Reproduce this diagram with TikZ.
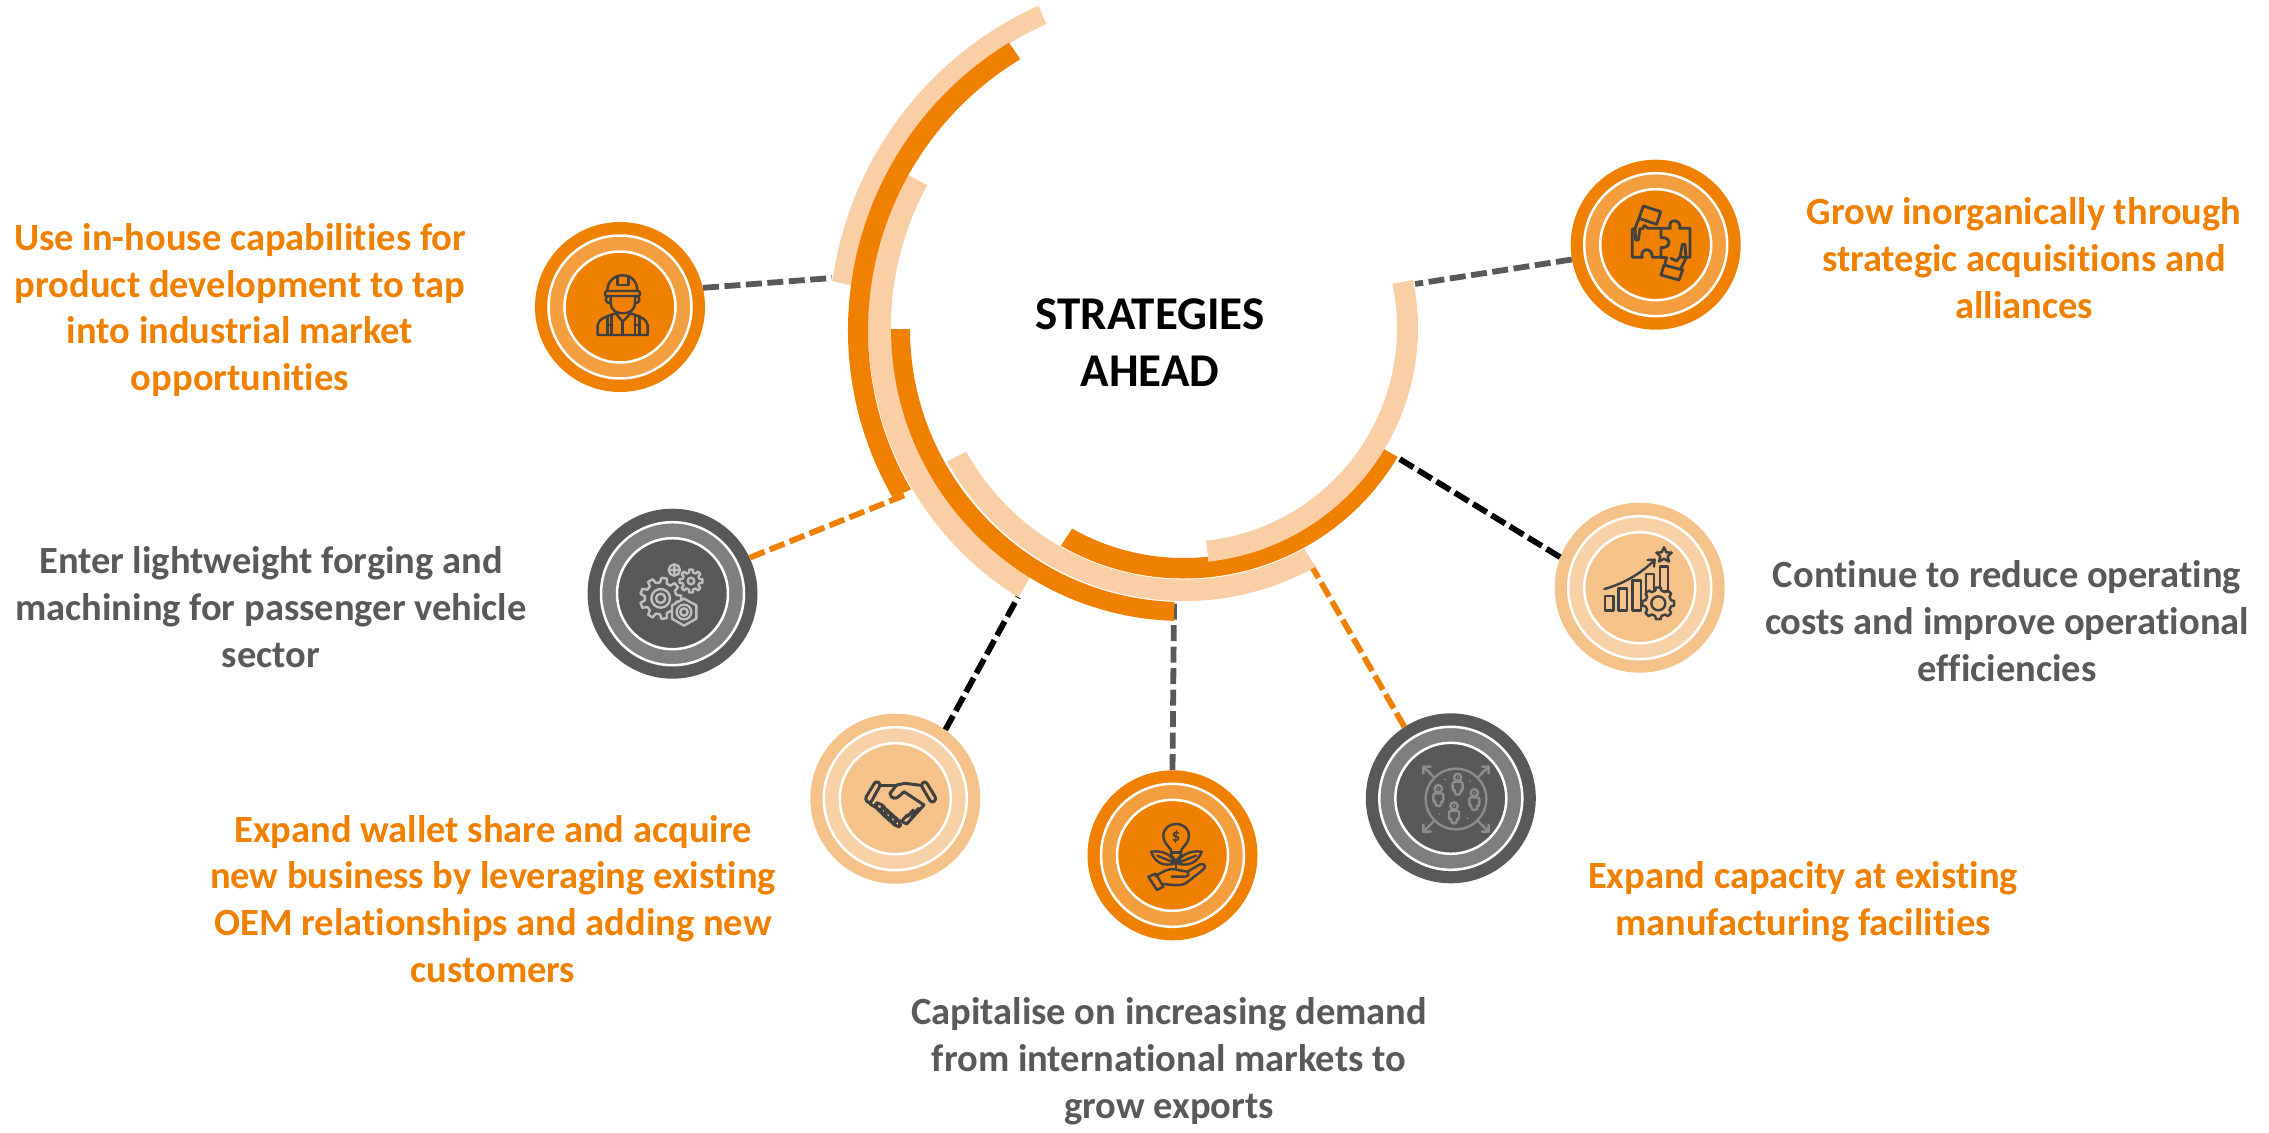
\documentclass[tikz,border=0pt]{standalone}
\usepackage{fontspec}
\setmainfont{Carlito}[Ligatures=CommonOff]
\definecolor{org}{HTML}{F08000}
\definecolor{orgmid}{HTML}{F49F3F}
\definecolor{pale}{HTML}{FBCFA5}
\definecolor{tan}{HTML}{F5C28A}
\definecolor{tanmid}{HTML}{F8D2A6}
\definecolor{dk}{HTML}{595959}
\definecolor{dkmid}{HTML}{7F7F7F}
\definecolor{icn}{HTML}{404040}
\newcommand{\bandarc}[9]{% color cx cy ri ro a1o a2o a1i a2i
  \fill[#1,shift={(#2,-#3)}] (#6:#5) arc[start angle=#6,end angle=#7,radius=#5*1pt] -- (#9:#4) arc[start angle=#9,end angle=#8,radius=#4*1pt] -- cycle;}
\newcommand{\cog}[5]{% cx cy ro ri n
  \begin{scope}[shift={(#1,#2)}]
  \foreach \i in {1,...,#5}{
    \pgfmathsetmacro{\aa}{\i*360/#5}
    \pgfmathsetmacro{\wd}{90/#5}
    \draw (\aa-\wd*1.25:#4) -- (\aa-\wd*.75:#3) -- (\aa+\wd*.75:#3) -- (\aa+\wd*1.25:#4) -- (\aa+360/#5-\wd*1.25:#4);
  }
  \end{scope}}
\newcommand{\person}[2]{%
  \draw (#1,#2-14) circle[radius=11];
  \draw[rounded corners=2pt] (#1-15,#2+25) -- (#1-15,#2) -- (#1+15,#2) -- (#1+15,#2+25) -- (#1+8,#2+25) -- (#1+8,#2+38) -- (#1-8,#2+38) -- (#1-8,#2+25) -- cycle;
  \fill (#1,#2-14) circle[radius=3];}
\tikzset{
  x=1pt,y=1pt,
  disc/.style={circle,minimum size=170pt,inner sep=0pt,draw=none},
  conn/.style={line width=5.8pt,dash pattern=on 16pt off 5.5pt},
  lab/.style={align=center,font=\fontsize{38.5}{46.8}\selectfont\bfseries},
  icon/.style={line width=2.4pt,line cap=round,line join=round,draw=#1,fill=none},
}
\begin{document}
\begin{tikzpicture}
\useasboundingbox (0,0) rectangle (2269,-1132);
% discs
\node[disc,fill=org] (n1) at (620,-307) {};
\node[disc,fill=dk] (n2) at (672.5,-593.7) {};
\node[disc,fill=tan] (n3) at (895.3,-798.7) {};
\node[disc,fill=org] (n4) at (1172.5,-855.3) {};
\node[disc,fill=dk] (n5) at (1450.8,-798.3) {};
\node[disc,fill=tan] (n6) at (1639.7,-587.7) {};
\node[disc,fill=org] (n7) at (1655.7,-244.7) {};
\foreach \n/\c/\m in {n1/org/orgmid,n2/dk/dkmid,n3/tan/tanmid,n4/org/orgmid,n5/dk/dkmid,n6/tan/tanmid,n7/org/orgmid}{
  \draw[draw=white,line width=2.5pt,fill=\m] (\n) circle[radius=71.5];
  \draw[draw=white,line width=2.5pt,fill=\c] (\n) circle[radius=55.5];
}
% connector free ends
\coordinate (e1) at (832,-278);
\coordinate (e2) at (905,-495);
\coordinate (e3) at (1018,-597);
\coordinate (e4) at (1174,-603);
\coordinate (e5) at (1311,-565);
\coordinate (e6) at (1398,-458);
\coordinate (e7) at (1415,-284);
\draw[conn,dk] (n1.13.5) -- (e1);
\draw[conn,org] (n2.25.8) -- (e2);
\draw[conn,black] (n3.54) -- (e3);
\draw[conn,dk] (n4.90) -- (e4);
\draw[conn,org] (n5.123.4) -- (e5);
\draw[conn,black] (n6.159) -- (e6);
\draw[conn,dk] (n7.190.8) -- (e7);
% arcs
\bandarc{pale}{1185}{330}{336}{356}{114.3}{172.1}{114.4}{172.4}
\bandarc{pale}{1186}{327}{295}{318}{151.3}{238.2}{151.3}{238.1}
\bandarc{org}{1185}{330}{317}{337}{121.5}{209.8}{121.3}{210.2}
\bandarc{pale}{1184}{330}{249.5}{271}{209}{299}{209.2}{298.8}
\bandarc{org}{1184}{330}{228}{248.5}{240.3}{329.3}{240.6}{329.2}
\bandarc{pale}{1183}{328}{214}{235}{-83.8}{11.8}{-83.8}{11.9}
\bandarc{org}{1183}{329}{273}{292}{180}{268.2}{180}{268.2}
\node[font=\fontsize{47}{57}\selectfont\bfseries,align=center,text=black] (title) at (1150,-343) {STRATEGIES\\AHEAD};
% labels
\node[lab,text=org] (t1) at (240,-310) {Use in-house capabilities for\\product development to tap\\into industrial market\\opportunities};
\node[lab,text=dk] (t2) at (271,-607) {Enter lightweight forging and\\machining for passenger vehicle\\sector};
\node[lab,text=org] (t3) at (493,-899) {Expand wallet share and acquire\\new business by leveraging existing\\OEM relationships and adding new\\customers};
\node[lab,text=dk] (t4) at (1169,-1061) {Capitalise on increasing demand\\from international markets to\\grow exports};
\node[lab,text=org] (t5) at (1803,-902) {Expand capacity at existing\\manufacturing facilities};
\node[lab,text=dk] (t6) at (2007,-621) {Continue to reduce operating\\costs and improve operational\\efficiencies};
\node[lab,text=org] (t7) at (2024,-258) {Grow inorganically through\\strategic acquisitions and\\alliances};
% icon 1: worker
\begin{scope}[shift={(520,-210)},x=.3333pt,y=-.3333pt,icon=icn]
\draw (262,243) .. controls (262,212) and (285,196) .. (308,196) .. controls (335,196) and (352,215) .. (352,243);
\draw (292,198) -- (292,225) -- (325,225) -- (325,198);
\draw[rounded corners=2pt] (255,243) rectangle (360,258);
\draw (265,258) .. controls (252,262) and (255,280) .. (272,280);
\draw (350,258) .. controls (363,262) and (360,280) .. (345,280);
\draw (272,258) -- (272,280) .. controls (272,300) and (290,310) .. (308,310) .. controls (328,310) and (345,300) .. (345,280) -- (345,258);
\draw (233,375) -- (233,345) .. controls (235,325) and (265,318) .. (287,310) -- (308,335) -- (332,310) .. controls (352,318) and (381,325) .. (383,345) -- (383,375) -- cycle;
\draw (308,335) -- (308,375);
\draw (262,318) -- (262,375) (275,315) -- (275,375) (345,315) -- (345,375) (358,318) -- (358,375);
\draw (262,345) -- (275,345) (345,345) -- (358,345);
\end{scope}
% icon 2: gears
\begin{scope}[shift={(570,-500)},x=.3333pt,y=-.3333pt,icon={black!25}]
\cog{272}{295}{62}{48}{9}
\draw (272,295) circle[radius=28] (272,295) circle[radius=14];
\cog{363}{243}{35}{26}{8}
\draw (363,243) circle[radius=10];
\draw (313,210) circle[radius=17] (304,210) -- (322,210) (313,201) -- (313,219);
\draw[fill=dk] (342,296) -- (379,316) -- (379,356) -- (342,377) -- (306,356) -- (306,316) -- cycle;
\draw (342,336) circle[radius=22] (342,336) circle[radius=11];
\end{scope}
% icon 3: handshake
\begin{scope}[shift={(800,-710)},x=.3333pt,y=-.3333pt,icon=icn,line width=3pt]
\draw[rounded corners=3pt] (228,212) -- (243,222) -- (210,282) -- (194,268) -- cycle;
\draw[rounded corners=3pt] (376,212) -- (362,224) -- (395,280) -- (410,268) -- cycle;
\draw (242,225) -- (290,225);
\draw (362,226) -- (315,220) -- (290,225) -- (270,250) .. controls (272,268) and (290,268) .. (298,258) -- (312,245) -- (372,285);
\draw (210,282) -- (240,300);
\foreach \p in {(243,295),(258,310),(272,322),(285,334)}
  \draw[rounded corners=4.5pt,shift={\p},rotate=-45] (-20,-9) rectangle (20,9);
\draw (372,285) -- (320,342) -- (300,332);
\draw (322,315) -- (308,330) (340,300) -- (322,320) (355,295) -- (335,322);
\end{scope}
% icon 4: plant in hand
\begin{scope}[shift={(1080,-770)},x=.3333pt,y=-.3333pt,icon=icn]
\draw (272,238) .. controls (262,225) and (250,215) .. (250,198) .. controls (250,175) and (268,162) .. (288,162) .. controls (310,162) and (327,175) .. (327,198) .. controls (327,215) and (315,225) .. (305,238) -- (302,258) -- (288,272) -- (275,258) -- cycle;
\draw (274,248) -- (303,248);
\node[text=icn,font=\fontsize{17}{17}\selectfont\bfseries,inner sep=0pt] (dollar) at (288,200) {\$};
\draw (288,270) -- (288,296);
\draw (214,245) .. controls (250,240) and (275,255) .. (285,280) .. controls (250,292) and (222,275) .. (214,245) -- cycle;
\draw (365,245) .. controls (330,240) and (302,255) .. (292,280) .. controls (325,292) and (355,275) .. (365,245) -- cycle;
\draw (232,257) -- (280,277) (348,257) -- (298,277);
\draw (205,320) -- (227,311) -- (250,350) -- (231,360) -- cycle;
\draw (226,318) .. controls (250,305) and (262,295) .. (285,298) -- (320,305) .. controls (330,310) and (325,320) .. (315,320) -- (275,320);
\draw (322,305) -- (360,283) .. controls (375,278) and (380,292) .. (368,300) -- (320,338) .. controls (300,350) and (285,345) .. (250,342);
\end{scope}
% icon 5: people
\begin{scope}[shift={(1360,-720)},x=.3333pt,y=-.3333pt,icon={black!45},fill=black!45]
\draw (288,237) circle[radius=91];
\person{293}{186}
\person{235}{220}
\person{343}{232}
\person{282}{272}
\fill (255,178) circle[radius=3] (330,183) circle[radius=3] (238,283) circle[radius=3] (323,295) circle[radius=3];
\draw (219,168) -- (190,140) (190,160) -- (190,140) -- (212,140);
\draw (357,168) -- (386,140) (366,140) -- (386,140) -- (386,160);
\draw (219,306) -- (190,335) (190,314) -- (190,335) -- (212,335);
\draw (357,306) -- (386,335) (386,314) -- (386,335) -- (366,335);
\end{scope}
% icon 6: chart
\begin{scope}[shift={(1550,-500)},x=.3333pt,y=-.3333pt,icon=icn]
\draw (165,288) rectangle (190,332);
\draw (206,265) rectangle (231,332);
\draw (248,242) rectangle (273,332);
\draw (288,222) rectangle (312,285);
\draw (330,200) rectangle (354,275);
\fill[tan] (325,310) circle[radius=42];
\cog{325}{310}{48}{39}{8}
\draw (325,310) circle[radius=21];
\draw (163,267) .. controls (225,250) and (275,218) .. (313,181);
\draw (293,180) -- (314,179) -- (312,200);
\draw (342,142) -- (349,157) -- (365,158) -- (353,169) -- (357,185) -- (342,176) -- (327,185) -- (331,169) -- (319,158) -- (335,157) -- cycle;
\end{scope}
% icon 7: puzzle
\begin{scope}[shift={(1565,-155)},x=.3333pt,y=-.3333pt,icon=icn,line width=2.8pt]
\draw (235,153) -- (287,170) -- (275,208) -- (222,190) -- cycle;
\draw (222,190) -- (210,220) -- (212,255) -- (220,255) -- (225,220);
\draw (232,222) -- (238,212) -- (250,220) -- (288,220);
\draw (210,222) -- (202,222) -- (202,307) -- (232,307) .. controls (222,282) and (262,272) .. (262,307) -- (288,307) -- (288,278) .. controls (320,280) and (320,245) .. (288,248) -- (288,220) -- (316,220) .. controls (305,190) and (350,190) .. (344,220) -- (375,220) -- (375,307) -- (350,307);
\draw (288,307) -- (300,307);
\draw (297,330) -- (353,345) -- (342,375) -- (288,360) -- cycle;
\draw (300,325) -- (305,307) (348,340) -- (363,310) -- (360,268) -- (352,268) -- (345,305) -- (335,318) -- (318,310);
\end{scope}
\end{tikzpicture}
\end{document}
